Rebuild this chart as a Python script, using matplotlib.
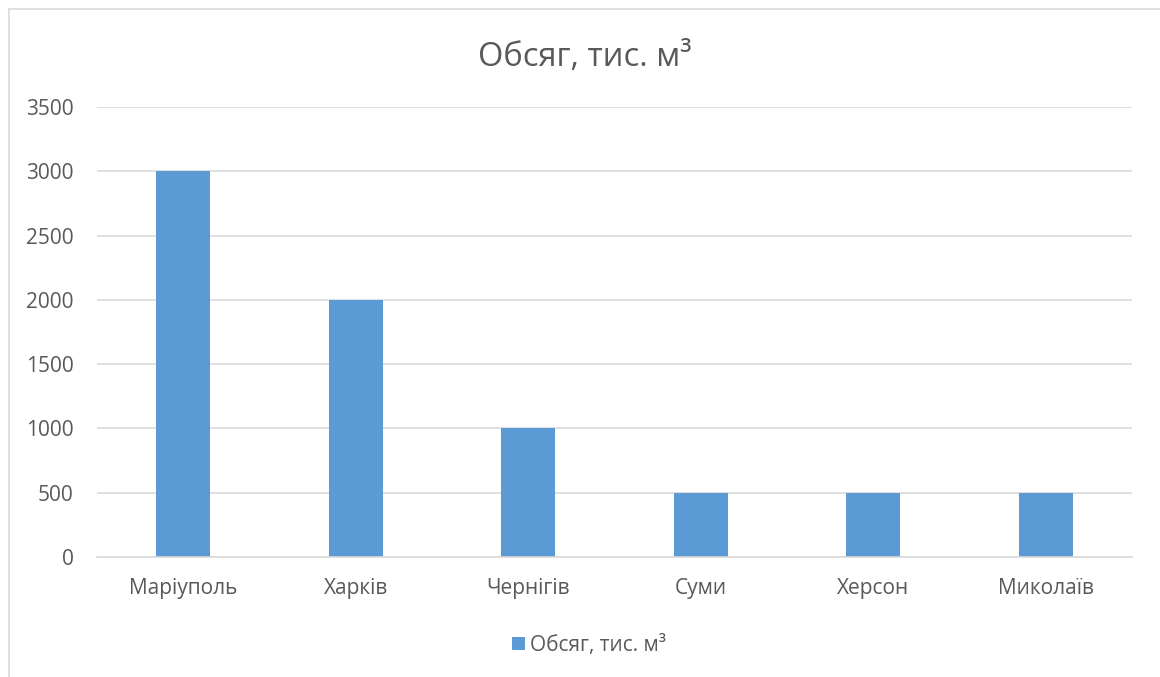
import matplotlib
matplotlib.use("Agg")
import matplotlib.pyplot as plt
from matplotlib.lines import Line2D
from matplotlib.patches import Patch

categories = ["Маріуполь", "Харків", "Чернігів", "Суми", "Херсон", "Миколаїв"]
volumes = [3000, 2000, 1000, 500, 500, 500]
y_ticks = [0, 500, 1000, 1500, 2000, 2500, 3000, 3500]
series_name = "Обсяг, тис. м³"

text_color = "#595959"
grid_color = "#d9d9d9"
bar_color = "#5B9BD5"
font = ["Open Sans", "DejaVu Sans"]
plt.rcParams["font.family"] = font

W, H = 1160, 677
fig = plt.figure(figsize=(W / 100, H / 100), dpi=100)
fig.patch.set_facecolor("white")

ax = fig.add_axes([97 / W, 1 - 557 / H, (1132 - 97) / W, (557 - 107) / H])
x = range(len(categories))
ax.bar(x, volumes, width=0.313, color=bar_color, zorder=3)

ax.set_xlim(-0.5, len(categories) - 0.5)
ax.set_ylim(0, 3500)
ax.set_yticks(y_ticks)
ax.set_yticklabels([str(v) for v in y_ticks])
ax.set_xticks(list(x))
ax.set_xticklabels(categories)
ax.tick_params(axis="both", length=0, labelsize=15, colors=text_color)
ax.tick_params(axis="y", pad=17)
ax.tick_params(axis="x", pad=15)
ax.grid(axis="y", color=grid_color, linewidth=1.2, zorder=0)
for s in ["top", "right", "left"]:
    ax.spines[s].set_visible(False)
ax.spines["bottom"].set_color(grid_color)
ax.spines["bottom"].set_linewidth(1.2)
ax.spines["bottom"].set_zorder(4)

fig.text(585 / W, 1 - 58 / H, series_name, ha="center", va="center",
         fontsize=23.5, color=text_color)

leg = fig.legend(handles=[Patch(facecolor=bar_color, label=series_name)],
                 loc="center", bbox_to_anchor=(589 / W, 1 - 645 / H),
                 frameon=False, fontsize=15, handlelength=0.6,
                 handleheight=0.6, handletextpad=0.25)
for t in leg.get_texts():
    t.set_color(text_color)

# outer chart frame (left and top edges)
fig.add_artist(Line2D([8.5 / W, 8.5 / W], [0, 1 - 8.5 / H],
                      transform=fig.transFigure, color="#d9d9d9", linewidth=1.2))
fig.add_artist(Line2D([8.5 / W, 1], [1 - 8.5 / H, 1 - 8.5 / H],
                      transform=fig.transFigure, color="#d9d9d9", linewidth=1.2))

fig.savefig("out.png", dpi=100)
